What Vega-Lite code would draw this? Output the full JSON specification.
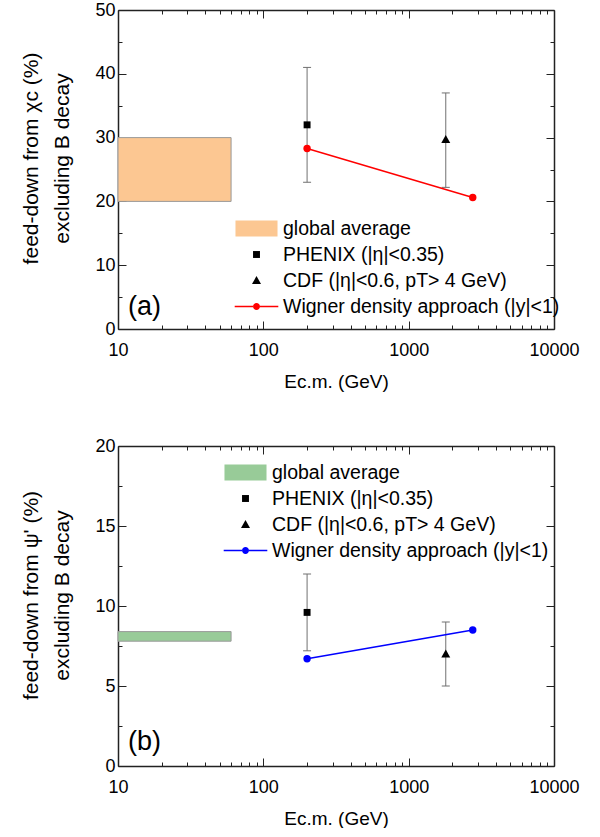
{
  "$schema": "https://vega.github.io/schema/vega-lite/v6.json",
  "padding": {"left": 20, "top": 1, "right": 0, "bottom": 0},
  "config": {
    "view": {"stroke": null},
    "font": "Liberation Sans",
    "axis": {"grid": false, "domainColor": "#222", "domainWidth": 1.5, "tickColor": "#222", "tickWidth": 1, "labelFont": "Liberation Sans", "labelFontSize": 18, "labelColor": "#000", "titleFont": "Liberation Sans", "titleFontWeight": "normal", "titleColor": "#000", "labelFlush": false, "labelOverlap": false},
    "legend": {"labelFont": "Liberation Sans", "labelColor": "#000"}
  },
  "datasets": {
    "chi_band": [{"x": 10, "x2": 60, "lo": 20, "hi": 30, "series": "global average"}],
    "chi_exp": [
      {"E": 200, "v": 32.0, "lo": 23.0, "hi": 41.0, "series": "PHENIX (|η|<0.35)"},
      {"E": 1800, "v": 29.7, "lo": 22.2, "hi": 37.0, "series": "CDF (|η|<0.6, pT> 4 GeV)"}
    ],
    "chi_wig": [
      {"E": 200, "v": 28.3, "series": "Wigner density approach (|y|<1)"},
      {"E": 2760, "v": 20.6, "series": "Wigner density approach (|y|<1)"}
    ],
    "chi_label": [{"E": 11.7, "v": 3.45, "t": "(a)"}],
    "psi_band": [{"x": 10, "x2": 60, "lo": 7.8, "hi": 8.4, "series": "global average"}],
    "psi_exp": [
      {"E": 200, "v": 9.6, "lo": 7.2, "hi": 12.0, "series": "PHENIX (|η|<0.35)"},
      {"E": 1800, "v": 7.0, "lo": 5.0, "hi": 9.0, "series": "CDF (|η|<0.6, pT> 4 GeV)"}
    ],
    "psi_wig": [
      {"E": 200, "v": 6.7, "series": "Wigner density approach (|y|<1)"},
      {"E": 2760, "v": 8.5, "series": "Wigner density approach (|y|<1)"}
    ],
    "psi_label": [{"E": 11.7, "v": 1.5, "t": "(b)"}]
  },
  "resolve": {"scale": {"x": "independent", "y": "independent", "color": "independent", "shape": "independent"}},
  "spacing": 46,
  "vconcat": [
    {
      "width": 436, "height": 319,
      "resolve": {"axis": {"x": "independent", "y": "independent"}},
      "layer": [
        {
          "data": {"name": "chi_band"},
          "mark": {"type": "rect", "fill": "#fcc792", "stroke": "#9a9a9a", "strokeWidth": 1},
          "encoding": {
            "x": {"field": "x", "type": "quantitative", "scale": {"type": "log", "domain": [10, 10000], "nice": false},
              "axis": {"orient": "bottom", "values": [10,20,30,40,50,60,70,80,90,100,200,300,400,500,600,700,800,900,1000,2000,3000,4000,5000,6000,7000,8000,9000,10000],
                "labelExpr": "indexof([10,100,1000,10000], datum.value) >= 0 ? '' + datum.value : ''",
                "tickSize": {"condition": {"test": "indexof([10,100,1000,10000], datum.value) >= 0", "value": -8}, "value": -4},
                "labelPadding": 20, "title": "Ec.m. (GeV)", "titleFontSize": 19, "titlePadding": 9}},
            "x2": {"field": "x2"},
            "y": {"field": "lo", "type": "quantitative", "scale": {"domain": [0, 50], "nice": false, "zero": false},
              "axis": {"orient": "left", "values": [0,5,10,15,20,25,30,35,40,45,50],
                "labelExpr": "datum.value % 10 === 0 ? '' + datum.value : ''",
                "tickSize": {"condition": {"test": "datum.value % 10 === 0", "value": -8}, "value": -4},
                "labelPadding": 11, "title": ["feed-down from χc (%)", "excluding B decay"], "titleFontSize": 21, "titleLineHeight": 31, "titlePadding": 22, "titleY": 148}},
            "y2": {"field": "hi"}
          }
        },
        {
          "data": {"name": "chi_exp"},
          "mark": {"type": "rule", "color": "#707070", "strokeWidth": 1},
          "encoding": {
            "x": {"field": "E", "type": "quantitative",
              "axis": {"orient": "top", "values": [10,20,30,40,50,60,70,80,90,100,200,300,400,500,600,700,800,900,1000,2000,3000,4000,5000,6000,7000,8000,9000,10000], "labels": false, "title": null,
                "tickSize": {"condition": {"test": "indexof([10,100,1000,10000], datum.value) >= 0", "value": -8}, "value": -4}}},
            "y": {"field": "lo", "type": "quantitative",
              "axis": {"orient": "right", "values": [0,5,10,15,20,25,30,35,40,45,50], "labels": false, "title": null,
                "tickSize": {"condition": {"test": "datum.value % 10 === 0", "value": -8}, "value": -4}}},
            "y2": {"field": "hi"}
          }
        },
        {
          "data": {"name": "chi_exp"},
          "mark": {"type": "point", "shape": "stroke", "size": 64, "color": "#707070", "strokeWidth": 1, "opacity": 1},
          "encoding": {"x": {"field": "E", "type": "quantitative", "axis": null}, "y": {"field": "lo", "type": "quantitative", "axis": null}}
        },
        {
          "data": {"name": "chi_exp"},
          "mark": {"type": "point", "shape": "stroke", "size": 64, "color": "#707070", "strokeWidth": 1, "opacity": 1},
          "encoding": {"x": {"field": "E", "type": "quantitative", "axis": null}, "y": {"field": "hi", "type": "quantitative", "axis": null}}
        },
        {
          "data": {"name": "chi_wig"},
          "mark": {"type": "line", "strokeWidth": 1.5, "color": "#ff0000"},
          "encoding": {"x": {"field": "E", "type": "quantitative", "axis": null}, "y": {"field": "v", "type": "quantitative", "axis": null}}
        },
        {
          "data": {"name": "chi_wig"},
          "mark": {"type": "point", "shape": "circle", "filled": true, "size": 55, "opacity": 1, "color": "#ff0000"},
          "encoding": {"x": {"field": "E", "type": "quantitative", "axis": null}, "y": {"field": "v", "type": "quantitative", "axis": null}}
        },
        {
          "data": {"name": "chi_exp"},
          "mark": {"type": "point", "filled": true, "size": 500, "opacity": 1, "strokeWidth": 0},
          "encoding": {"x": {"field": "E", "type": "quantitative", "axis": null}, "y": {"field": "v", "type": "quantitative", "axis": null},
            "color": {"field": "series", "type": "nominal",
              "scale": {"domain": ["global average", "PHENIX (|η|<0.35)", "CDF (|η|<0.6, pT> 4 GeV)", "Wigner density approach (|y|<1)"], "range": ["#fcc792", "#000000", "#000000", "#ff0000"]},
              "legend": {"orient": "none", "legendX": 127, "legendY": 207, "title": null, "symbolSize": 500, "labelFontSize": 19.5, "labelOffset": 15, "rowPadding": 5, "symbolStrokeWidth": 0, "padding": 0, "labelLimit": 400}},
            "shape": {"field": "series", "type": "nominal",
              "scale": {"domain": ["global average", "PHENIX (|η|<0.35)", "CDF (|η|<0.6, pT> 4 GeV)", "Wigner density approach (|y|<1)"],
                "range": ["M-1.88,-0.72H1.88V0.72H-1.88Z", "M-0.31,-0.31H0.31V0.31H-0.31Z", "M0,-0.4L0.4,0.32H-0.4Z", "M-1.95,-0.07H-0.3V0.07H-1.95Z M0.3,-0.07H1.95V0.07H0.3Z M-0.31,0A0.31,0.31,0,1,0,0.31,0A0.31,0.31,0,1,0,-0.31,0Z"]},
              "legend": {"orient": "none", "legendX": 127, "legendY": 207, "title": null, "symbolSize": 500, "labelFontSize": 19.5, "labelOffset": 15, "rowPadding": 5, "symbolStrokeWidth": 0, "padding": 0, "labelLimit": 400}}
          }
        },
        {
          "data": {"name": "chi_label"},
          "mark": {"type": "text", "align": "left", "baseline": "middle", "fontSize": 27, "color": "#000"},
          "encoding": {"x": {"field": "E", "type": "quantitative", "axis": null}, "y": {"field": "v", "type": "quantitative", "axis": null}, "text": {"field": "t"}}
        }
      ]
    },
    {
      "width": 436, "height": 320,
      "resolve": {"axis": {"x": "independent", "y": "independent"}},
      "layer": [
        {
          "data": {"name": "psi_band"},
          "mark": {"type": "rect", "fill": "#98cb98", "stroke": "#9a9a9a", "strokeWidth": 1},
          "encoding": {
            "x": {"field": "x", "type": "quantitative", "scale": {"type": "log", "domain": [10, 10000], "nice": false},
              "axis": {"orient": "bottom", "values": [10,20,30,40,50,60,70,80,90,100,200,300,400,500,600,700,800,900,1000,2000,3000,4000,5000,6000,7000,8000,9000,10000],
                "labelExpr": "indexof([10,100,1000,10000], datum.value) >= 0 ? '' + datum.value : ''",
                "tickSize": {"condition": {"test": "indexof([10,100,1000,10000], datum.value) >= 0", "value": -8}, "value": -4},
                "labelPadding": 20, "title": "Ec.m. (GeV)", "titleFontSize": 19, "titlePadding": 9}},
            "x2": {"field": "x2"},
            "y": {"field": "lo", "type": "quantitative", "scale": {"domain": [0, 20], "nice": false, "zero": false},
              "axis": {"orient": "left", "values": [0,2.5,5,7.5,10,12.5,15,17.5,20],
                "labelExpr": "datum.value % 5 === 0 ? '' + datum.value : ''",
                "tickSize": {"condition": {"test": "datum.value % 5 === 0", "value": -8}, "value": -4},
                "labelPadding": 11, "title": ["feed-down from ψ' (%)", "excluding B decay"], "titleFontSize": 21, "titleLineHeight": 31, "titlePadding": 22, "titleY": 149}},
            "y2": {"field": "hi"}
          }
        },
        {
          "data": {"name": "psi_exp"},
          "mark": {"type": "rule", "color": "#707070", "strokeWidth": 1},
          "encoding": {
            "x": {"field": "E", "type": "quantitative",
              "axis": {"orient": "top", "values": [10,20,30,40,50,60,70,80,90,100,200,300,400,500,600,700,800,900,1000,2000,3000,4000,5000,6000,7000,8000,9000,10000], "labels": false, "title": null,
                "tickSize": {"condition": {"test": "indexof([10,100,1000,10000], datum.value) >= 0", "value": -8}, "value": -4}}},
            "y": {"field": "lo", "type": "quantitative",
              "axis": {"orient": "right", "values": [0,2.5,5,7.5,10,12.5,15,17.5,20], "labels": false, "title": null,
                "tickSize": {"condition": {"test": "datum.value % 5 === 0", "value": -8}, "value": -4}}},
            "y2": {"field": "hi"}
          }
        },
        {
          "data": {"name": "psi_exp"},
          "mark": {"type": "point", "shape": "stroke", "size": 64, "color": "#707070", "strokeWidth": 1, "opacity": 1},
          "encoding": {"x": {"field": "E", "type": "quantitative", "axis": null}, "y": {"field": "lo", "type": "quantitative", "axis": null}}
        },
        {
          "data": {"name": "psi_exp"},
          "mark": {"type": "point", "shape": "stroke", "size": 64, "color": "#707070", "strokeWidth": 1, "opacity": 1},
          "encoding": {"x": {"field": "E", "type": "quantitative", "axis": null}, "y": {"field": "hi", "type": "quantitative", "axis": null}}
        },
        {
          "data": {"name": "psi_wig"},
          "mark": {"type": "line", "strokeWidth": 1.5, "color": "#0000ff"},
          "encoding": {"x": {"field": "E", "type": "quantitative", "axis": null}, "y": {"field": "v", "type": "quantitative", "axis": null}}
        },
        {
          "data": {"name": "psi_wig"},
          "mark": {"type": "point", "shape": "circle", "filled": true, "size": 55, "opacity": 1, "color": "#0000ff"},
          "encoding": {"x": {"field": "E", "type": "quantitative", "axis": null}, "y": {"field": "v", "type": "quantitative", "axis": null}}
        },
        {
          "data": {"name": "psi_exp"},
          "mark": {"type": "point", "filled": true, "size": 500, "opacity": 1, "strokeWidth": 0},
          "encoding": {"x": {"field": "E", "type": "quantitative", "axis": null}, "y": {"field": "v", "type": "quantitative", "axis": null},
            "color": {"field": "series", "type": "nominal",
              "scale": {"domain": ["global average", "PHENIX (|η|<0.35)", "CDF (|η|<0.6, pT> 4 GeV)", "Wigner density approach (|y|<1)"], "range": ["#98cb98", "#000000", "#000000", "#0000ff"]},
              "legend": {"orient": "none", "legendX": 116, "legendY": 15, "title": null, "symbolSize": 500, "labelFontSize": 19.5, "labelOffset": 15, "rowPadding": 5, "symbolStrokeWidth": 0, "padding": 0, "labelLimit": 400}},
            "shape": {"field": "series", "type": "nominal",
              "scale": {"domain": ["global average", "PHENIX (|η|<0.35)", "CDF (|η|<0.6, pT> 4 GeV)", "Wigner density approach (|y|<1)"],
                "range": ["M-1.88,-0.72H1.88V0.72H-1.88Z", "M-0.31,-0.31H0.31V0.31H-0.31Z", "M0,-0.4L0.4,0.32H-0.4Z", "M-1.95,-0.07H-0.3V0.07H-1.95Z M0.3,-0.07H1.95V0.07H0.3Z M-0.31,0A0.31,0.31,0,1,0,0.31,0A0.31,0.31,0,1,0,-0.31,0Z"]},
              "legend": {"orient": "none", "legendX": 116, "legendY": 15, "title": null, "symbolSize": 500, "labelFontSize": 19.5, "labelOffset": 15, "rowPadding": 5, "symbolStrokeWidth": 0, "padding": 0, "labelLimit": 400}}
          }
        },
        {
          "data": {"name": "psi_label"},
          "mark": {"type": "text", "align": "left", "baseline": "middle", "fontSize": 27, "color": "#000"},
          "encoding": {"x": {"field": "E", "type": "quantitative", "axis": null}, "y": {"field": "v", "type": "quantitative", "axis": null}, "text": {"field": "t"}}
        }
      ]
    }
  ]
}
